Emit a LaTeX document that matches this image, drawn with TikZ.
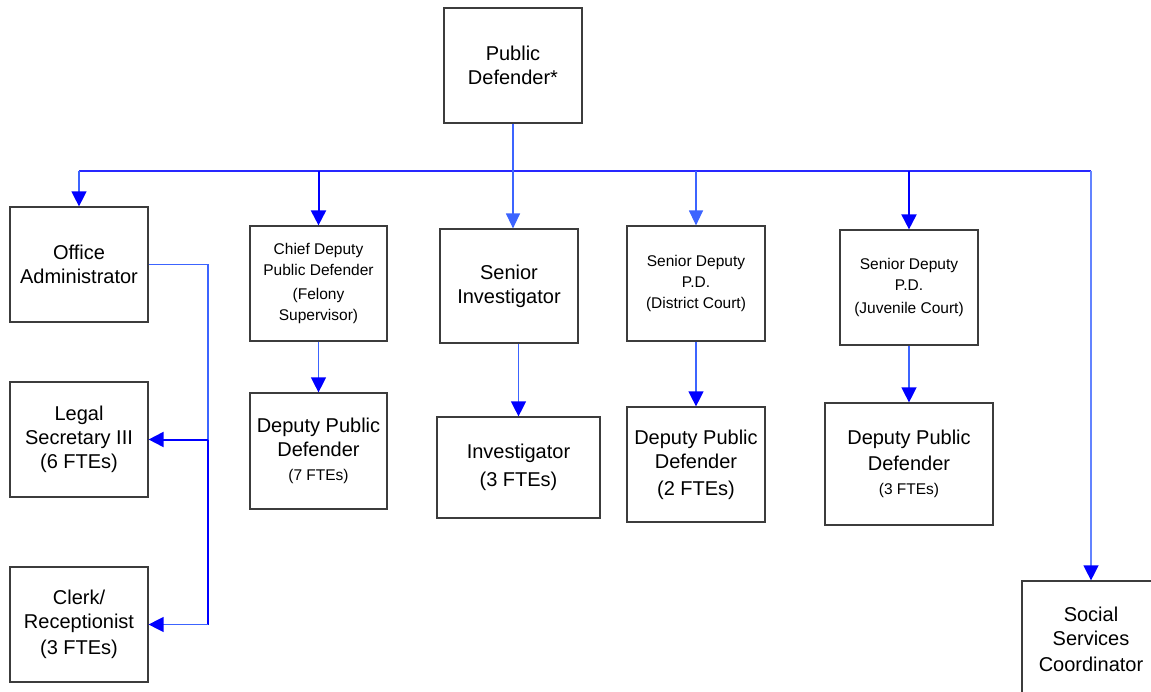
\documentclass[tikz,border=0pt]{standalone}
\usepackage{fontspec}
\setmainfont{Liberation Sans}
\usetikzlibrary{arrows.meta}
\definecolor{bdark}{RGB}{0,0,255}
\definecolor{blight}{RGB}{60,100,255}
\definecolor{bmid}{RGB}{40,40,255}
\definecolor{edgegray}{RGB}{60,60,60}
\tikzset{
  orgbox/.style={draw=edgegray, line width=1.2pt, align=center, inner sep=0pt,
    font=\fontsize{20}{24}\selectfont},
  smallbox/.style={orgbox, font=\fontsize{15.5}{21}\selectfont},
  tipd/.style={-{Triangle[length=15pt,width=15pt,color=bdark]}},
  tipl/.style={-{Triangle[length=15pt,width=14pt,color=blight]}},
  thinl/.style={line width=1.3pt, color=blight},
  thickd/.style={line width=2pt, color=bdark},
  busl/.style={line width=1.5pt, color=bmid},
}
\newcommand{\smallfte}[1]{{\fontsize{15.5}{18}\selectfont #1}}
\begin{document}
\begin{tikzpicture}[x=1pt,y=-1pt]
\useasboundingbox (0,0) rectangle (1151,692);
\clip (0,0) rectangle (1151,692);
\fill[white] (0,0) rectangle (1151,692);

% nodes
\node[orgbox, minimum width=138pt, minimum height=115pt] (PD) at (513,65.5) {Public\\Defender*};
\node[orgbox, minimum width=138pt, minimum height=115pt] (OA) at (79,264.5) {Office\\Administrator};
\node[smallbox, minimum width=137pt, minimum height=115pt] (CD) at (318.5,283.5) {Chief Deputy\\Public Defender\\[3pt](Felony\\Supervisor)};
\node[orgbox, minimum width=137pt, minimum height=116pt] (D7) at (318.5,451) {Deputy Public\\Defender\\\smallfte{(7 FTEs)}};
\node[orgbox, minimum width=138pt, minimum height=115pt] (LS) at (79,439.5) {Legal\\Secretary III\\(6 FTEs)};
\node[orgbox, minimum width=138pt, minimum height=115pt] (CR) at (79,624.5) {Clerk/\\Receptionist\\[2pt](3 FTEs)};
\node[orgbox, minimum width=138pt, minimum height=114pt] (SI) at (509,286) {Senior\\Investigator};
\node[orgbox, minimum width=163pt, minimum height=101pt] (IV) at (518.5,467.5) {Investigator\\[4pt](3 FTEs)};
\node[smallbox, minimum width=138pt, minimum height=115pt] (DC) at (696,283.5) {Senior Deputy\\P.D.\\(District Court)};
\node[orgbox, minimum width=138pt, minimum height=115pt] (D2) at (696,464.5) {Deputy Public\\Defender\\[3pt](2 FTEs)};
\node[smallbox, minimum width=138pt, minimum height=115pt] (JC) at (909,287.5) {Senior Deputy\\P.D.\\[2pt](Juvenile Court)};
\node[orgbox, minimum width=168pt, minimum height=122pt] (D3) at (909,464) {Deputy Public\\[2pt]Defender\\\smallfte{(3 FTEs)}};
\node[orgbox, minimum width=138pt, minimum height=116pt] (SS) at (1091,639) {Social\\Services\\[2pt]Coordinator};

\coordinate (bus) at (513,171);
\coordinate (lt) at (208,264.5);

% bus
\draw[busl] (OA.north |- bus) -- (SS.north |- bus);
\draw[thinl, tipl] (PD.south) -- (PD.south |- SI.north);
\draw[thinl, tipd] (OA.north |- bus) -- (OA.north);
\draw[thickd, tipd] (CD.north |- bus) -- (CD.north);
\draw[thinl, tipl] (DC.north |- bus) -- (DC.north);
\draw[thickd, tipd] (JC.north |- bus) -- (JC.north);
\draw[line width=1.3pt, color=blight!80!white, tipd] (SS.north |- bus) -- (SS.north);

% second level
\draw[thinl, tipd] (CD.south) -- (D7.north);
\draw[thinl, tipd] (IV.north |- SI.south) -- (IV.north);
\draw[thinl, tipd] (DC.south) -- (D2.north);
\draw[thinl, tipd] (JC.south) -- (D3.north);

% left branch
\draw[thinl] (OA.east) -- (lt) -- (lt |- LS.east);
\draw[thickd] (lt |- LS.east) -- (lt |- CR.east);
\draw[thickd, tipd] (lt |- LS.east) -- (LS.east);
\draw[thinl, tipd] (lt |- CR.east) -- (CR.east);
\end{tikzpicture}
\end{document}
